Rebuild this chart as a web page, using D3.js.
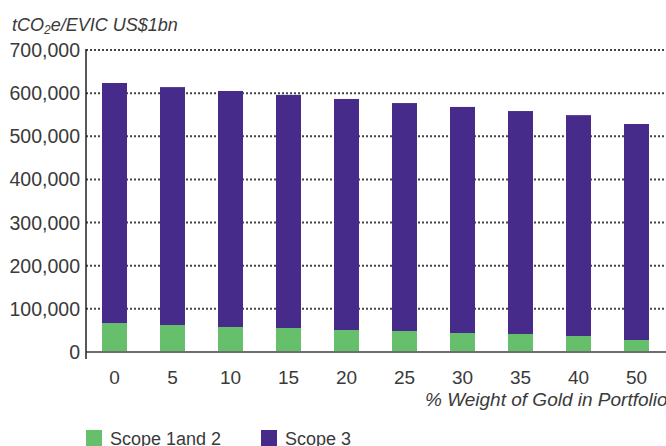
<!DOCTYPE html>
<html>
<head>
<meta charset="utf-8">
<script src="https://cdn.jsdelivr.net/npm/d3@7"></script>
<style>
  body { margin: 0; background: #fff; }
  svg text { font-family: "Liberation Sans", Arial, sans-serif; fill: #3a3a3a; }
</style>
</head>
<body>
<svg id="chart" width="666" height="446"></svg>
<script>
const weights = ["0", "5", "10", "15", "20", "25", "30", "35", "40", "50"];
const scope12 = [67000, 62600, 58000, 55600, 51000, 48700, 44000, 41700, 37000, 27800];
const totals = [623500, 614000, 605000, 596000, 586500, 577000, 568000, 558500, 549000, 528500];
const scope3 = totals.map((t, i) => t - scope12[i]);
const yTicks = [0, 100000, 200000, 300000, 400000, 500000, 600000, 700000];

const seriesNames = ["Scope 1and 2", "Scope 3"];
const colors = ["#66c06b", "#462b8a"];

const svg = d3.select("#chart");

const x = d3.scaleBand()
    .domain(weights)
    .range([85.5, 665.5])
    .paddingInner(0.569)
    .paddingOuter(0.2845);

const y = d3.scaleLinear()
    .domain([0, 700000])
    .range([352, 50]);

// gridlines
svg.append("g")
    .selectAll("line")
    .data(yTicks.filter(d => d > 0))
    .enter().append("line")
    .attr("x1", 86)
    .attr("x2", 666)
    .attr("y1", d => y(d))
    .attr("y2", d => y(d))
    .attr("stroke", "#444")
    .attr("stroke-width", 2)
    .attr("stroke-dasharray", "2,2");

// y tick labels
svg.append("g")
    .selectAll("text")
    .data(yTicks)
    .enter().append("text")
    .attr("x", 80)
    .attr("y", d => y(d) + 7)
    .attr("text-anchor", "end")
    .style("font-size", "19.5px")
    .text(d => d3.format(",")(d));

// stacked bars
const rows = weights.map((w, i) => ({ w: w, s12: scope12[i], s3: scope3[i] }));
const stack = d3.stack().keys(["s12", "s3"])(rows);

svg.append("g")
    .selectAll("g")
    .data(stack)
    .enter().append("g")
    .attr("fill", (d, i) => colors[i])
    .selectAll("rect")
    .data(d => d)
    .enter().append("rect")
    .attr("x", d => x(d.data.w))
    .attr("width", x.bandwidth())
    .attr("y", d => y(d[1]))
    .attr("height", d => y(d[0]) - y(d[1]));

// baseline
svg.append("line")
    .attr("x1", 86).attr("x2", 666)
    .attr("y1", 352).attr("y2", 352)
    .attr("stroke", "#6e6e6e")
    .attr("stroke-width", 2);

// y axis line
svg.append("line")
    .attr("x1", 86).attr("x2", 86)
    .attr("y1", 49).attr("y2", 359)
    .attr("stroke", "#222")
    .attr("stroke-width", 1.5);

// x tick labels
svg.append("g")
    .selectAll("text")
    .data(weights)
    .enter().append("text")
    .attr("x", d => x(d) + x.bandwidth() / 2)
    .attr("y", 384)
    .attr("text-anchor", "middle")
    .style("font-size", "19px")
    .text(d => d);

// axis titles
const title = svg.append("text")
    .attr("x", 12)
    .attr("y", 31)
    .style("font-size", "18px")
    .style("font-style", "italic");
title.append("tspan").text("tCO");
title.append("tspan").text("2").style("font-size", "12px").attr("dy", 3);
title.append("tspan").text("e/EVIC US$1bn").attr("dy", -3);

svg.append("text")
    .attr("x", 425)
    .attr("y", 406)
    .style("font-size", "19px")
    .style("font-style", "italic")
    .text("% Weight of Gold in Portfolio");

// legend
const legend = svg.append("g")
    .selectAll("g")
    .data(seriesNames)
    .enter().append("g")
    .attr("transform", (d, i) => `translate(${[86, 261][i]},430)`);

legend.append("rect")
    .attr("width", 16)
    .attr("height", 16)
    .attr("fill", (d, i) => colors[i]);

legend.append("text")
    .attr("x", 24)
    .attr("y", 15)
    .style("font-size", "18px")
    .text(d => d);
</script>
</body>
</html>
